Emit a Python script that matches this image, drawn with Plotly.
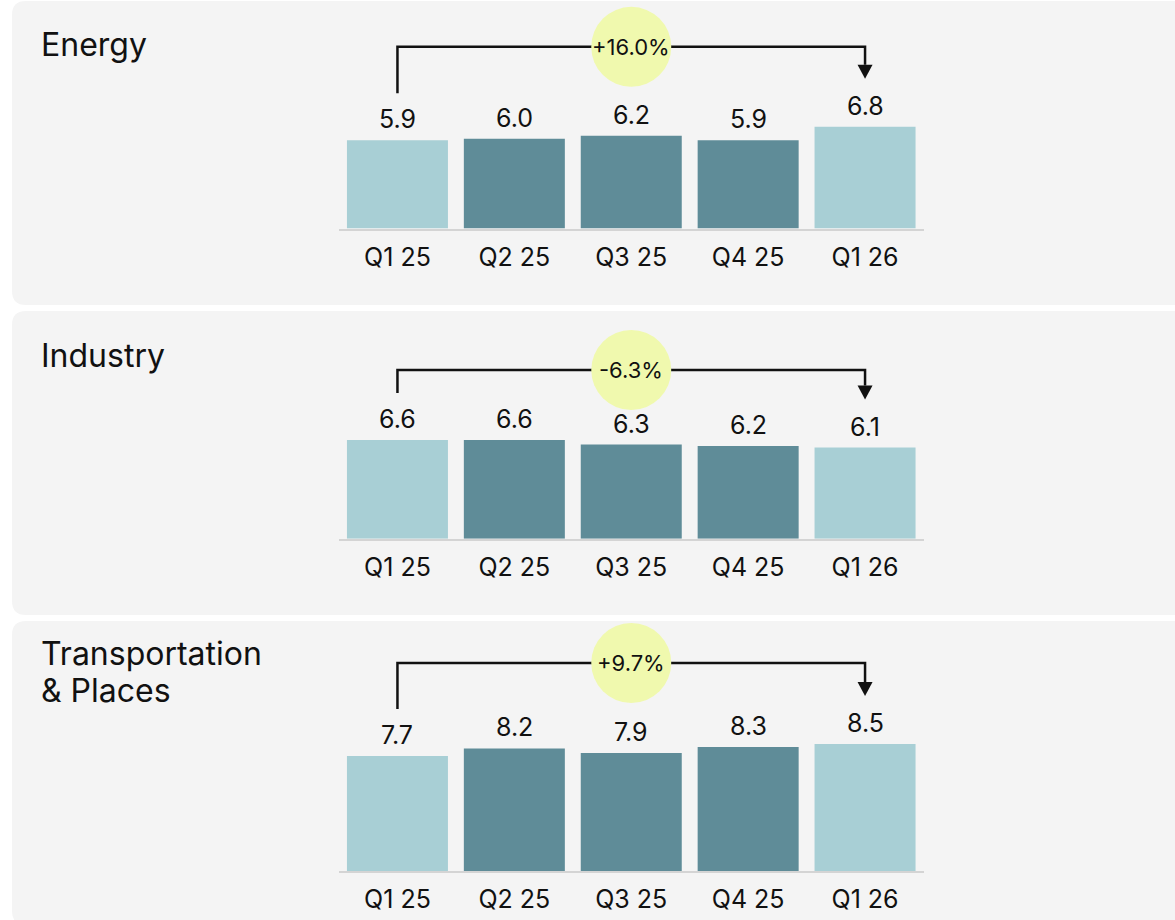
import plotly.graph_objects as go

# ---- data -------------------------------------------------------------
quarters = ["Q1 25", "Q2 25", "Q3 25", "Q4 25", "Q1 26"]
sectors = ["Energy", "Industry", "Transportation<br>& Places"]
energy = [5.9, 6.0, 6.2, 5.9, 6.8]
industry = [6.6, 6.6, 6.3, 6.2, 6.1]
transport = [7.7, 8.2, 7.9, 8.3, 8.5]
changes = ["+16.0%", "-6.3%", "+9.7%"]
series = [energy, industry, transport]

# ---- page geometry (pixels) ------------------------------------------
W, H = 1175, 920
FONT = "Inter, 'Noto Sans', sans-serif"
INK = "#111111"
LIGHT = "#a8cfd5"
DARK = "#5f8c98"
PANEL_BG = "#f4f4f4"
HIGHLIGHT = "#f0f9ae"

PX_PER_UNIT = 14.95          # vertical scale shared by all three panels
X_LEFT, X_RIGHT = 339, 923.5  # plot area of every bar row
panel_tops = [1, 311, 621]
panel_h = 304
baselines = [228.5, 538.7, 871]
title_y = [45, 355, 653]      # vertical centre of the first title line
TITLE_LINE = 37               # spacing between title lines
bracket_gap = [80, 70, 81]    # bracket height above the tallest bar (px)


def fx(px):
    return px / W


def fy(py):
    return 1 - py / H


def rounded_panel(x0, y0, x1, y1, r):
    pts = [
        ("M", [(x0 + r, y0)]), ("L", [(x1 - r, y0)]), ("Q", [(x1, y0), (x1, y0 + r)]),
        ("L", [(x1, y1 - r)]), ("Q", [(x1, y1), (x1 - r, y1)]), ("L", [(x0 + r, y1)]),
        ("Q", [(x0, y1), (x0, y1 - r)]), ("L", [(x0, y0 + r)]), ("Q", [(x0, y0), (x0 + r, y0)]),
    ]
    d = ""
    for cmd, coords in pts:
        d += cmd + " " + " ".join(f"{fx(a):.5f},{fy(b):.5f}" for a, b in coords) + " "
    return d + "Z"


fig = go.Figure()
shapes = []
annotations = []
layout_axes = {}

for i, (name, vals, change) in enumerate(zip(sectors, series, changes)):
    n = "" if i == 0 else str(i + 1)
    xa, ya = "x" + n, "y" + n
    top, base = panel_tops[i], baselines[i]

    # panel background card
    shapes.append(dict(type="path", xref="paper", yref="paper", layer="below",
                       path=rounded_panel(12, top, 1195, top + panel_h, 14),
                       fillcolor=PANEL_BG, line=dict(width=0)))

    dom_top = top + 1
    y_max = (base - dom_top) / PX_PER_UNIT
    layout_axes["xaxis" + n] = dict(
        domain=[fx(X_LEFT), fx(X_RIGHT)], anchor=ya, type="category",
        categoryorder="array", categoryarray=quarters,
        showgrid=False, zeroline=False, showline=True, linecolor="#d4d4d4",
        linewidth=2, ticks="", ticklabelstandoff=5,
        tickfont=dict(size=25, color=INK, family=FONT),
        fixedrange=True,
    )
    layout_axes["yaxis" + n] = dict(
        domain=[fy(base), fy(dom_top)], anchor=xa, range=[0, y_max],
        visible=False, fixedrange=True,
    )

    colors = [LIGHT if k in (0, len(vals) - 1) else DARK for k in range(len(vals))]
    fig.add_trace(go.Bar(x=quarters, y=vals, xaxis=xa, yaxis=ya,
                         marker=dict(color=colors, line=dict(width=0)),
                         hoverinfo="skip", showlegend=False))

    # value labels above bars
    for q, v in zip(quarters, vals):
        annotations.append(dict(x=q, y=v, xref=xa, yref=ya, text=f"{v:.1f}",
                                showarrow=False, yanchor="middle", yshift=21,
                                font=dict(size=25, color=INK, family=FONT)))

    # bracket from first to last quarter
    first, last = vals[0], vals[-1]
    level = max(vals) + bracket_gap[i] / PX_PER_UNIT
    start_y = first + 47 / PX_PER_UNIT
    tip_y = last + 48 / PX_PER_UNIT
    head_h = 14 / PX_PER_UNIT
    head_w = 7.5 / ((X_RIGHT - X_LEFT) / len(quarters))
    last_i = len(quarters) - 1
    shapes.append(dict(type="path", xref=xa, yref=ya, layer="above",
                       path=f"M 0,{start_y} L 0,{level} L {last_i},{level} L {last_i},{tip_y + head_h}",
                       line=dict(color=INK, width=2.5)))
    shapes.append(dict(type="path", xref=xa, yref=ya, layer="above",
                       path=(f"M {last_i - head_w},{tip_y + head_h} L {last_i + head_w},{tip_y + head_h} "
                             f"L {last_i},{tip_y} Z"),
                       fillcolor=INK, line=dict(width=0)))
    # highlighted change badge in the middle of the bracket
    mid = last_i / 2
    shapes.append(dict(type="circle", xref=xa, yref=ya, layer="above",
                       xsizemode="pixel", ysizemode="pixel",
                       xanchor=mid, yanchor=level, x0=-40, x1=40, y0=-40, y1=40,
                       fillcolor=HIGHLIGHT, line=dict(width=0)))
    annotations.append(dict(x=mid, y=level, xref=xa, yref=ya, text=change,
                            showarrow=False, xanchor="center", yanchor="middle",
                            font=dict(size=22, color=INK, family=FONT)))

    # sector title, one annotation per line for tighter leading
    for k, line in enumerate(name.split("<br>")):
        annotations.append(dict(x=fx(39), y=fy(title_y[i] + k * TITLE_LINE),
                                xref="paper", yref="paper", text=line, showarrow=False,
                                xanchor="left", yanchor="middle", align="left",
                                font=dict(size=32, color=INK, family=FONT)))

fig.update_layout(
    width=W, height=H, margin=dict(l=0, r=0, t=0, b=0),
    paper_bgcolor="white", plot_bgcolor="rgba(0,0,0,0)",
    bargap=0.136, shapes=shapes, annotations=annotations,
    font=dict(family=FONT, color=INK), **layout_axes,
)

fig.write_html("out.html", config={"displayModeBar": False})
